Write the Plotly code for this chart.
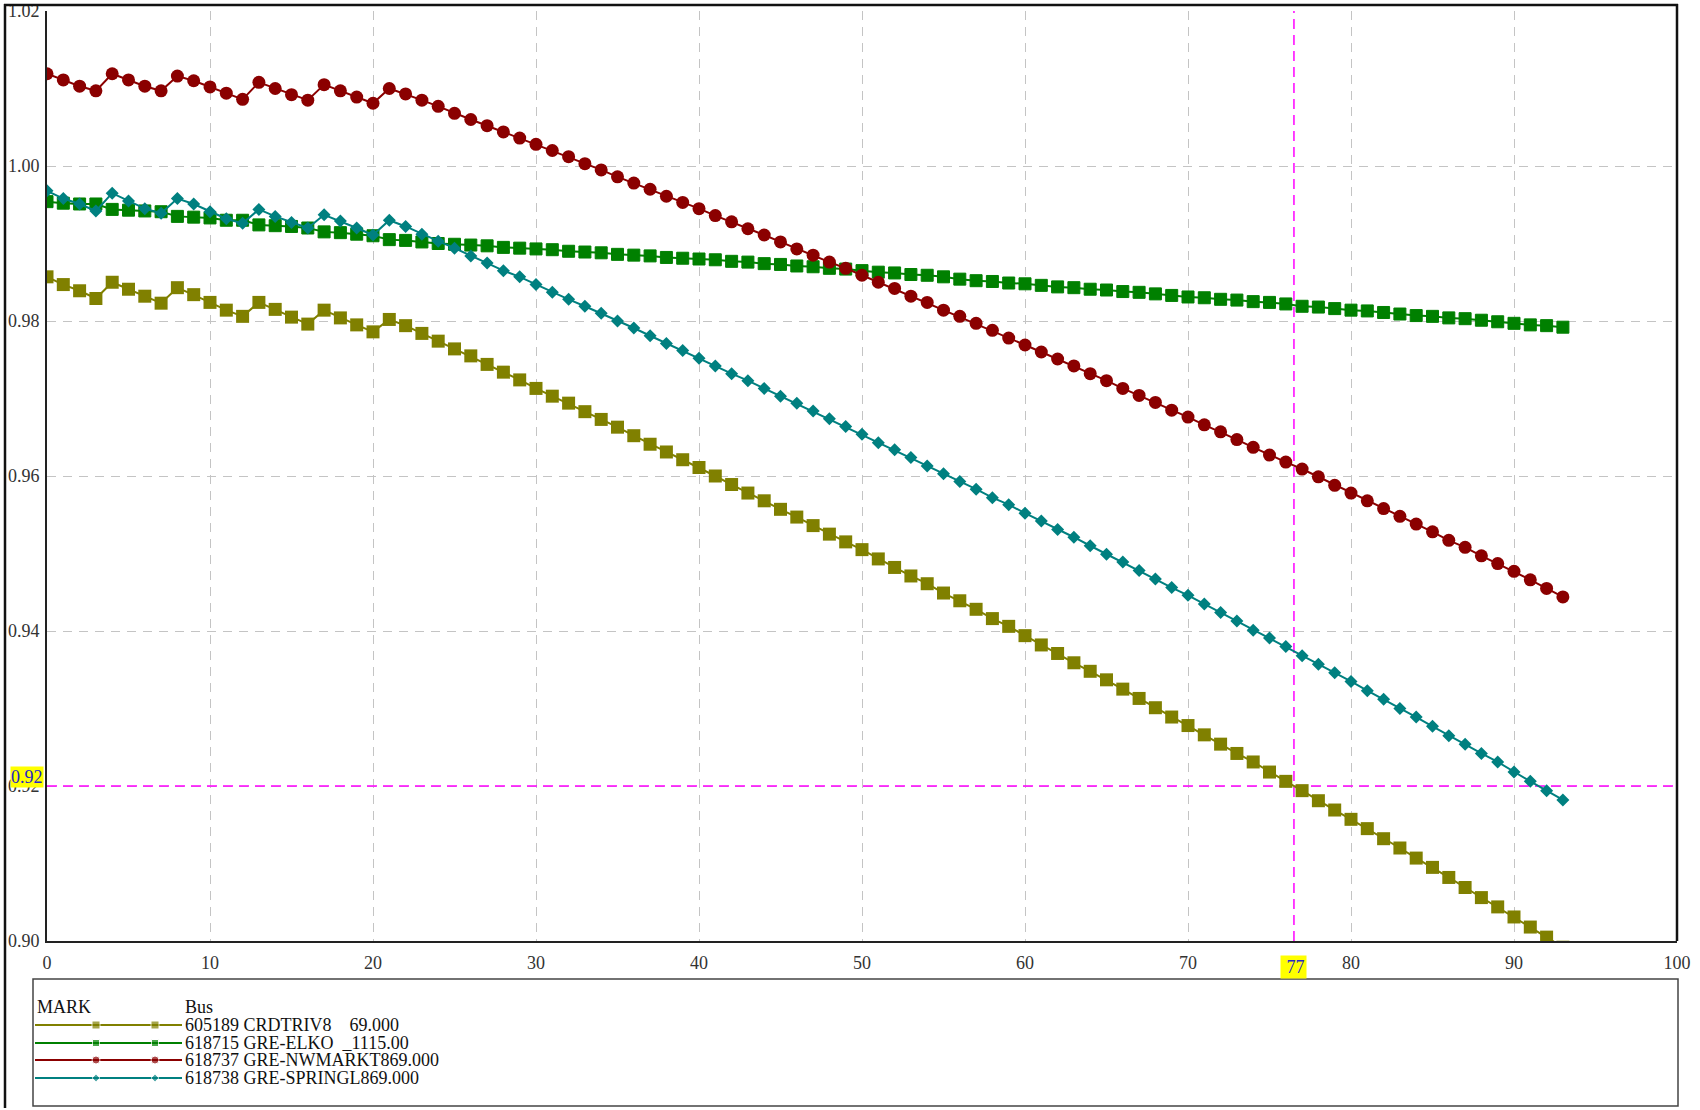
import plotly.graph_objects as go

# figure and plot area, in pixels
W, H = 1700, 1110
PX0, PX1, PY0, PY1 = 47, 1677, 11, 941

# DATA: bus voltage (pu) at each step
step = list(range(94))

crdtriv8 = [0.9857, 0.9847, 0.9839, 0.9829, 0.9850, 0.9841, 0.9832, 0.9823, 0.9843, 0.9834,
            0.9824, 0.9814, 0.9806, 0.9824, 0.9815, 0.9805, 0.9796, 0.9814, 0.9804, 0.9795,
            0.9786, 0.9802, 0.9794, 0.9784, 0.9774, 0.9764, 0.9755, 0.9744, 0.9734, 0.9724,
            0.9713, 0.9703, 0.9694, 0.9683, 0.9673, 0.9663, 0.9652, 0.9641, 0.9631, 0.9621,
            0.9611, 0.9600, 0.9589, 0.9578, 0.9568, 0.9557, 0.9547, 0.9536, 0.9525, 0.9515,
            0.9505, 0.9493, 0.9482, 0.9471, 0.9461, 0.9449, 0.9439, 0.9428, 0.9416, 0.9406,
            0.9394, 0.9382, 0.9371, 0.9359, 0.9348, 0.9337, 0.9325, 0.9313, 0.9301, 0.9289,
            0.9278, 0.9266, 0.9254, 0.9242, 0.9231, 0.9218, 0.9206, 0.9194, 0.9181, 0.9169,
            0.9157, 0.9145, 0.9132, 0.9120, 0.9107, 0.9095, 0.9082, 0.9069, 0.9056, 0.9044,
            0.9031, 0.9018, 0.9005, 0.8992]

elko = [0.9954, 0.9952, 0.9951, 0.9951, 0.9944, 0.9943, 0.9942, 0.9941, 0.9935, 0.9934,
        0.9933, 0.9930, 0.9930, 0.9924, 0.9923, 0.9922, 0.9920, 0.9915, 0.9914, 0.9912,
        0.9910, 0.9905, 0.9904, 0.9902, 0.9900, 0.9899, 0.9898, 0.9897, 0.9895, 0.9894,
        0.9893, 0.9892, 0.9890, 0.9889, 0.9888, 0.9886, 0.9885, 0.9884, 0.9882, 0.9881,
        0.9880, 0.9879, 0.9877, 0.9876, 0.9874, 0.9873, 0.9871, 0.9870, 0.9868, 0.9867,
        0.9865, 0.9863, 0.9862, 0.9860, 0.9859, 0.9857, 0.9854, 0.9852, 0.9851, 0.9849,
        0.9848, 0.9846, 0.9844, 0.9843, 0.9841, 0.9840, 0.9838, 0.9837, 0.9835, 0.9833,
        0.9831, 0.9830, 0.9828, 0.9827, 0.9825, 0.9824, 0.9822, 0.9819, 0.9818, 0.9816,
        0.9814, 0.9813, 0.9811, 0.9809, 0.9807, 0.9806, 0.9804, 0.9803, 0.9801, 0.9799,
        0.9797, 0.9795, 0.9794, 0.9792]

nwmarkt = [1.0119, 1.0111, 1.0103, 1.0097, 1.0119, 1.0111, 1.0103, 1.0097, 1.0116, 1.0110,
           1.0102, 1.0094, 1.0086, 1.0108, 1.0100, 1.0092, 1.0085, 1.0105, 1.0097, 1.0089,
           1.0081, 1.0100, 1.0093, 1.0085, 1.0077, 1.0068, 1.0060, 1.0052, 1.0044, 1.0036,
           1.0028, 1.0020, 1.0012, 1.0003, 0.9995, 0.9986, 0.9978, 0.9970, 0.9961, 0.9953,
           0.9945, 0.9936, 0.9928, 0.9919, 0.9911, 0.9902, 0.9893, 0.9885, 0.9876, 0.9868,
           0.9859, 0.9850, 0.9842, 0.9832, 0.9824, 0.9814, 0.9806, 0.9797, 0.9788, 0.9778,
           0.9769, 0.9760, 0.9751, 0.9742, 0.9732, 0.9723, 0.9713, 0.9704, 0.9695, 0.9685,
           0.9676, 0.9666, 0.9657, 0.9647, 0.9637, 0.9627, 0.9618, 0.9609, 0.9599, 0.9588,
           0.9578, 0.9568, 0.9558, 0.9548, 0.9538, 0.9528, 0.9517, 0.9508, 0.9497, 0.9487,
           0.9477, 0.9466, 0.9455, 0.9444]

springl = [0.9968, 0.9958, 0.9951, 0.9942, 0.9965, 0.9955, 0.9945, 0.9939, 0.9958, 0.9951,
           0.9941, 0.9932, 0.9926, 0.9944, 0.9935, 0.9927, 0.9920, 0.9937, 0.9929, 0.9920,
           0.9911, 0.9930, 0.9922, 0.9912, 0.9903, 0.9894, 0.9884, 0.9875, 0.9865, 0.9857,
           0.9847, 0.9837, 0.9828, 0.9819, 0.9810, 0.9800, 0.9791, 0.9781, 0.9771, 0.9762,
           0.9752, 0.9742, 0.9732, 0.9723, 0.9713, 0.9703, 0.9694, 0.9684, 0.9674, 0.9664,
           0.9654, 0.9643, 0.9634, 0.9624, 0.9613, 0.9603, 0.9593, 0.9583, 0.9572, 0.9563,
           0.9552, 0.9542, 0.9531, 0.9521, 0.9510, 0.9499, 0.9489, 0.9478, 0.9467, 0.9456,
           0.9446, 0.9435, 0.9424, 0.9413, 0.9401, 0.9391, 0.9380, 0.9368, 0.9357, 0.9346,
           0.9335, 0.9323, 0.9312, 0.9300, 0.9289, 0.9277, 0.9265, 0.9254, 0.9242, 0.9231,
           0.9218, 0.9206, 0.9194, 0.9182]

bus_names = ['605189 CRDTRIV8    69.000',
             '618715 GRE-ELKO  _1115.00',
             '618737 GRE-NWMARKT869.000',
             '618738 GRE-SPRINGL869.000']

x_ticks = [0, 10, 20, 30, 40, 50, 60, 70, 80, 90, 100]
y_ticks = [0.90, 0.92, 0.94, 0.96, 0.98, 1.00, 1.02]
y_tick_text = ['0.90', '0.92', '0.94', '0.96', '0.98', '1.00', '1.02']

mark_x, mark_x_text = 76.5, '77'
mark_y, mark_y_text = 0.92, '0.92'

# styles
series = [crdtriv8, elko, nwmarkt, springl]
colors = ['#808000', '#008000', '#8b0000', '#008080']
symbols = ['square', 'square', 'circle', 'diamond']
sizes = [13, 12, 13, 10]
leg_sizes = [8, 7, 8, 6]
FONT = 'Liberation Serif'
MAGENTA = '#ff00ff'
TXT = dict(family=FONT, size=18, color='#111111')

fig = go.Figure()

for ys, name, c, sym, sz in zip(series, bus_names, colors, symbols, sizes):
    fig.add_trace(go.Scatter(x=step, y=ys, mode='lines+markers', name=name,
                             line=dict(color=c, width=2),
                             marker=dict(symbol=sym, size=sz, color=c,
                                         line=dict(color=c, width=1 if c == '#008000' else 0)),
                             xaxis='x', yaxis='y'))

# legend panel drawn on an overlay axis that works in pixels
leg_rows = [1025, 1043, 1060, 1078]
for row, name, c, sym, sz in zip(leg_rows, bus_names, colors, symbols, leg_sizes):
    fig.add_trace(go.Scatter(x=[35, 96, 155, 182], y=[row] * 4, mode='lines+markers',
                             line=dict(color=c, width=2),
                             marker=dict(symbol=sym, size=[0, sz, sz, 0], color=c),
                             xaxis='x2', yaxis='y2', hoverinfo='skip'))
    fig.add_annotation(x=183, y=row, xref='x2', yref='y2', xanchor='left', yanchor='middle',
                       text=name.replace(' ', '\u00a0'), showarrow=False, font=TXT)

fig.add_annotation(x=35, y=1007, xref='x2', yref='y2', xanchor='left', yanchor='middle',
                   text='MARK', showarrow=False, font=TXT)
fig.add_annotation(x=183, y=1007, xref='x2', yref='y2', xanchor='left', yanchor='middle',
                   text='Bus', showarrow=False, font=TXT)

# marker lines
fig.add_shape(type='line', xref='x', yref='y', x0=0, x1=100, y0=mark_y, y1=mark_y,
              line=dict(color=MAGENTA, width=1.5, dash='10px,6px'), layer='between')
fig.add_shape(type='line', xref='x', yref='y', x0=mark_x, x1=mark_x, y0=0.90, y1=1.02,
              line=dict(color=MAGENTA, width=1.5, dash='10px,6px'), layer='between')

fig.add_annotation(x=44, y=mark_y, xref='x2', yref='y', yshift=9, xanchor='right', yanchor='middle',
                   text=mark_y_text, showarrow=False, bgcolor='#ffff00', borderpad=0,
                   font=dict(family=FONT, size=18, color='#2626c8'))
fig.add_annotation(x=mark_x, y=967, xref='x', yref='y2', xanchor='center', yanchor='middle',
                   text='\u00a0' + mark_x_text, showarrow=False, bgcolor='#ffff00', borderpad=1,
                   font=dict(family=FONT, size=18, color='#2626c8'))

# frame lines and legend box
frame = dict(color='#111111', width=2.5)
fig.add_shape(type='line', xref='x2', yref='y2', x0=5, x1=5, y0=4, y1=1108, line=frame)
fig.add_shape(type='line', xref='x2', yref='y2', x0=4, x1=PX1 + 1, y0=5, y1=5, line=frame)
fig.add_shape(type='line', xref='x2', yref='y2', x0=PX1, x1=PX1, y0=4, y1=PY1, line=frame)
fig.add_shape(type='rect', xref='x2', yref='y2', x0=33, x1=1678, y0=979, y1=1106,
              line=dict(color='#444444', width=1.5))

tick_font = dict(family=FONT, size=18, color='#333333')
grid = dict(showgrid=True, gridcolor='#c4c4c4', gridwidth=1, griddash='9px,7px',
            zeroline=False, showline=True, linecolor='#222222', linewidth=2, ticks='',
            tickfont=tick_font, automargin=False)

fig.update_layout(
    width=W, height=H, autosize=False,
    margin=dict(l=0, r=0, t=0, b=0, pad=0),
    paper_bgcolor='white', plot_bgcolor='rgba(0,0,0,0)',
    showlegend=False,
    xaxis=dict(domain=[PX0 / W, PX1 / W], range=[0, 100], tickvals=x_ticks,
               anchor='y', ticklabelstandoff=4, **grid),
    yaxis=dict(domain=[1 - PY1 / H, 1 - PY0 / H], range=[0.90, 1.02], tickvals=y_ticks,
               ticktext=y_tick_text, anchor='x', ticklabelstandoff=2, **grid),
    xaxis2=dict(domain=[0, 1], range=[0, W], visible=False, anchor='y2', automargin=False),
    yaxis2=dict(domain=[0, 1], range=[H, 0], visible=False, anchor='x2', automargin=False),
)

# drop the page's default body margin so the figure sits at the window's corner
fig.write_html("out.html", config={'displayModeBar': False},
               post_script="document.body.style.margin='0';")
